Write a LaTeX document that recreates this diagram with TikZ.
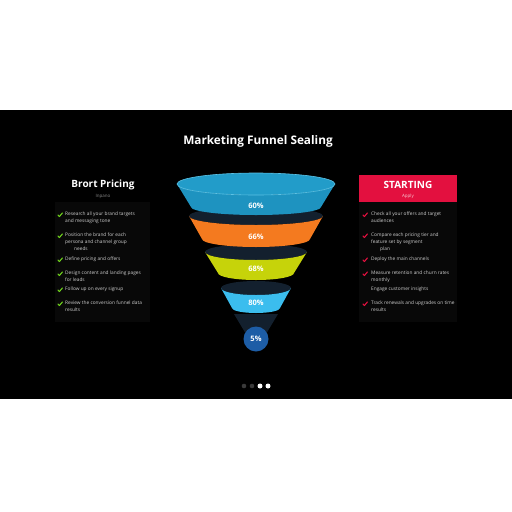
\documentclass[tikz,border=0pt]{standalone}
\usepackage{fontspec}
\setmainfont{Open Sans}
\usepackage{tikz}
\usetikzlibrary{positioning}
\definecolor{slide}{HTML}{000000}
\definecolor{panel}{HTML}{080808}
\definecolor{bandblue}{HTML}{1E93C0}
\definecolor{bandbluetop}{HTML}{229CC9}
\definecolor{bandrim}{HTML}{5CC3E6}
\definecolor{bandorange}{HTML}{F47A1F}
\definecolor{bandlime}{HTML}{C6D30A}
\definecolor{bandsky}{HTML}{3BBDEE}
\definecolor{bandinner}{HTML}{13202E}
\definecolor{tipblue}{HTML}{1D5DA6}
\definecolor{checkgreen}{HTML}{6FD21C}
\definecolor{checkred}{HTML}{E3103F}
\definecolor{itemtext}{HTML}{CFCFCF}
\definecolor{subtext}{HTML}{8A8A8A}
\definecolor{dotoff}{HTML}{3A3A3A}
\tikzset{
  title/.style={text=white, font=\fontsize{11.8}{14}\selectfont\bfseries},
  pct/.style={text=white, font=\fontsize{7.5}{9}\selectfont\bfseries},
  head/.style={text=white, font=\fontsize{10}{12}\selectfont\bfseries},
  sub/.style={text=subtext, font=\fontsize{4.5}{5}\selectfont},
  item/.style={text=itemtext, font=\fontsize{4.8}{7}\selectfont, align=left,
    anchor=north west, inner sep=0pt},
  tick/.style={line width=1.1pt, line cap=round, line join=round},
}
% one funnel ring: top y, top r, top ry, bottom y, bottom r, bottom ry, face, top
\newcommand{\funnelband}[8]{%
  \fill[#8] (256,#1) ellipse[x radius=#2, y radius=#3];
  \fill[#7] (256-#2,#1) arc[start angle=180, end angle=360, x radius=#2, y radius=#3]
    -- (256+#5,#4) arc[start angle=360, end angle=180, x radius=#5, y radius=#6] -- cycle;
}
\newcommand{\tickmark}[3]{% x, y, colour
  \draw[tick, #3] (#1-2,#2) -- (#1-0.6,#2-1.5) -- (#1+2.4,#2+2);
}

\begin{document}
\begin{tikzpicture}[x=1pt, y=1pt]
  \useasboundingbox (0,0) rectangle (512,-512);
  \fill[white] (0,0) rectangle (512,-512);
  \fill[slide] (0,-110) rectangle (512,-399);

  \node[title] (title) at (258,-141) {Marketing Funnel Sealing};

  % funnel, drawn from the tip up
  \fill[bandinner] (234,-314) -- (278,-314) -- (266,-334) -- (246,-334) -- cycle;
  \funnelband{-288}{35}{7}{-308}{24}{5}{bandsky}{bandinner}
  \funnelband{-252}{51}{8}{-273}{38}{7}{bandlime}{bandinner}
  \funnelband{-216}{67}{9}{-239}{54}{8}{bandorange}{bandinner}
  \funnelband{-184}{79}{11}{-207}{65}{8}{bandblue}{bandbluetop}
  \draw[bandrim, line width=0.6pt] (256,-184) ellipse[x radius=79, y radius=11];
  \fill[tipblue] (256,-339) circle[radius=12.5];

  \node[pct] (p1) at (256,-206) {60\%};
  \node[pct] (p2) at (256,-237) {66\%};
  \node[pct] (p3) at (256,-269) {68\%};
  \node[pct] (p4) at (256,-303) {80\%};
  \node[pct] (p5) at (256,-339) {5\%};

  % left column
  \fill[panel] (55,-202) rectangle (150,-322);
  \node[head] (lhead) at (103,-185) {Brort Pricing};
  \node[sub] (lsub) at (103,-196) {Inpano};
  \tickmark{60}{-215}{checkgreen}
  \node[item] (l1) at (65,-212) {Research all your brand targets\\and messaging tone};
  \tickmark{60}{-236}{checkgreen}
  \node[item] (l2) at (65,-233) {Position the brand for each\\persona and channel group\\\hspace{9pt}needs};
  \tickmark{60}{-260}{checkgreen}
  \node[item] (l3) at (65,-257) {Define pricing and offers};
  \tickmark{60}{-274}{checkgreen}
  \node[item] (l4) at (65,-271) {Design content and landing pages\\for leads};
  \tickmark{60}{-290}{checkgreen}
  \node[item] (l5) at (65,-287) {Follow up on every signup};
  \tickmark{60}{-304}{checkgreen}
  \node[item] (l6) at (65,-301) {Review the conversion funnel data\\results};

  % right column
  \fill[panel] (359,-202) rectangle (457,-322);
  \fill[checkred] (359,-175) rectangle (457,-202);
  \node[head] (rhead) at (408,-185) {STARTING};
  \node[sub, text=white!75!checkred] (rsub) at (408,-196) {Apply};
  \tickmark{365}{-215}{checkred}
  \node[item] (r1) at (371,-212) {Check all your offers and target\\audiences};
  \tickmark{365}{-236}{checkred}
  \node[item] (r2) at (371,-233) {Compare each pricing tier and\\feature set by segment\\\hspace{9pt}plan};
  \tickmark{365}{-260}{checkred}
  \node[item] (r3) at (371,-257) {Deploy the main channels};
  \tickmark{365}{-274}{checkred}
  \node[item] (r4) at (371,-271) {Measure retention and churn rates\\monthly};
  \node[item] (r5) at (371,-287) {Engage customer insights};
  \tickmark{365}{-304}{checkred}
  \node[item] (r6) at (371,-301) {Track renewals and upgrades on time\\results};

  % slide dots
  \fill[dotoff] (244,-386) circle[radius=2.3];
  \fill[dotoff] (252,-386) circle[radius=2.3];
  \fill[white] (260,-386) circle[radius=2.5];
  \fill[white] (268,-386) circle[radius=2.5];
\end{tikzpicture}
\end{document}
